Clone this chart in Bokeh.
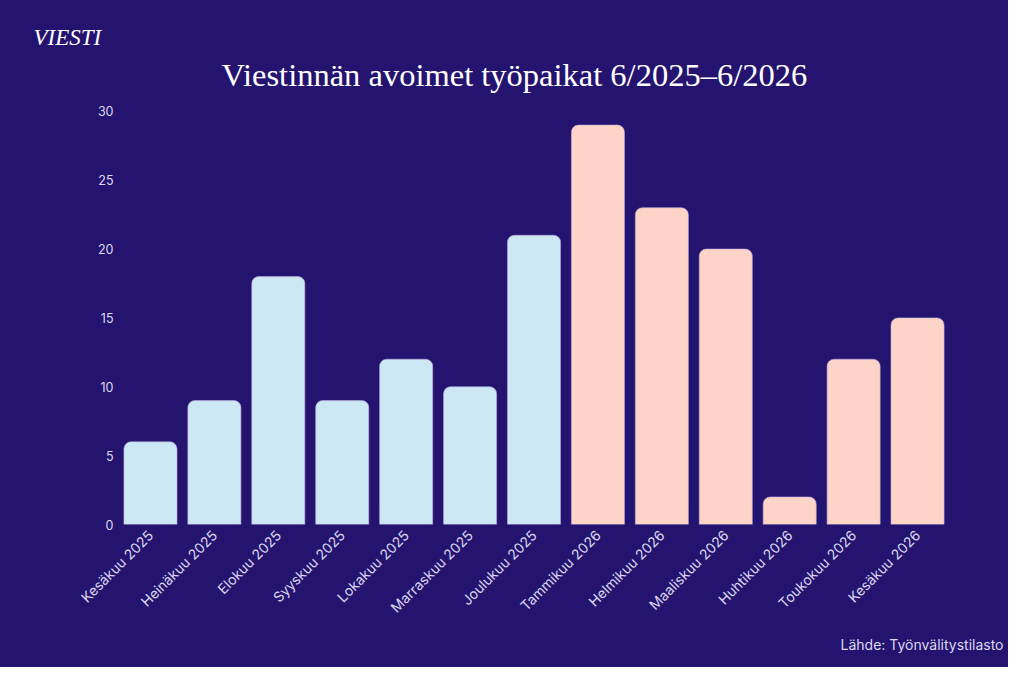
from bokeh.plotting import figure
from bokeh.models import ColumnDataSource, Title, Range1d
from bokeh.embed import file_html
from bokeh.resources import INLINE
from math import pi

months = ["Kesäkuu 2025", "Heinäkuu 2025", "Elokuu 2025", "Syyskuu 2025",
          "Lokakuu 2025", "Marraskuu 2025", "Joulukuu 2025", "Tammikuu 2026",
          "Helmikuu 2026", "Maaliskuu 2026", "Huhtikuu 2026", "Toukokuu 2026",
          "Kesäkuu 2026"]
openings = [6, 9, 18, 9, 12, 10, 21, 29, 23, 20, 2, 12, 15]
year_colors = {"2025": "#cce8f4", "2026": "#fed4c8"}

bg = "#25146f"
txt = "#dcd8f0"

src = ColumnDataSource(dict(
    month=months,
    value=openings,
    color=[year_colors[m[-4:]] for m in months],
))

p = figure(x_range=months, y_range=Range1d(0, 31), width=1008, height=667,
           output_backend="svg", toolbar_location=None,
           min_border_left=118, min_border_right=59,
           min_border_top=97, min_border_bottom=143)
# paint the background with css so no seam shows around the frame
p.styles = {"background-color": bg}
p.background_fill_color = None
p.border_fill_color = None
p.outline_line_color = None
p.xgrid.grid_line_color = None
p.ygrid.grid_line_color = None

p.vbar(x="month", top="value", width=0.83, source=src, fill_color="color",
       line_color="#b9a9d6", line_width=0.6, border_radius=(7, 7, 0, 0))

for ax in (p.xaxis, p.yaxis):
    ax.axis_line_color = None
    ax.major_tick_line_color = None
    ax.minor_tick_line_color = None
    ax.major_tick_out = 0
    ax.minor_tick_out = 0
    ax.major_label_text_color = txt
    ax.major_label_text_font = "Inter"

p.yaxis.major_label_text_font_size = "12.5px"
p.xaxis.major_label_text_font_size = "14px"
p.yaxis.major_label_standoff = 5
p.xaxis.major_label_standoff = 8
p.yaxis.ticker = [0, 5, 10, 15, 20, 25, 30]
p.xaxis.major_label_orientation = pi / 4

# headline, logo and source as titles around the frame
p.add_layout(Title(text="Viestinnän avoimet työpaikat 6/2025–6/2026",
                   align="left", offset=103, text_font="Liberation Serif",
                   text_font_size="32.5px", text_font_style="normal",
                   text_color="#ffffff", standoff=10), "above")
p.add_layout(Title(text="VIESTI", align="left", offset=-85,
                   text_font="Liberation Serif", text_font_style="italic",
                   text_font_size="23px", text_color="#ffffff",
                   standoff=0), "above")
p.add_layout(Title(text="Lähde: Työnvälitystilasto", align="right",
                   offset=-54, text_font="Inter", text_font_style="normal",
                   text_font_size="14px", text_color=txt, standoff=23,
                   vertical_align="top"),
             "below")

open("out.html", "w").write(file_html(p, INLINE))
